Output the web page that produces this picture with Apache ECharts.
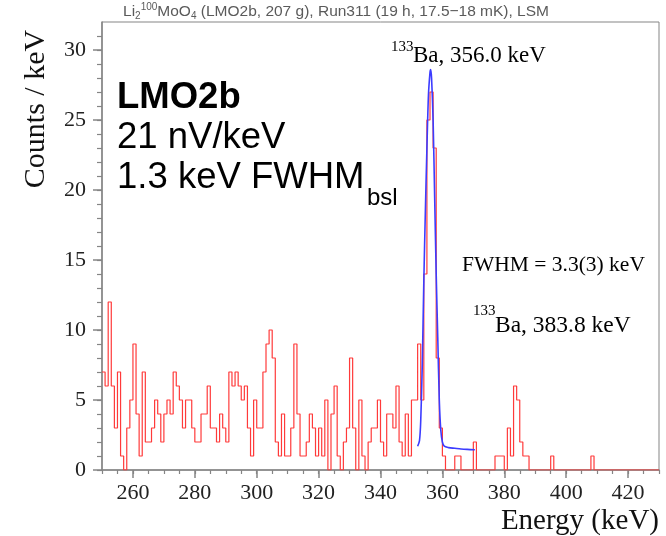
<!DOCTYPE html>
<html><head><meta charset="utf-8">
<script src="https://cdn.jsdelivr.net/npm/echarts@6/dist/echarts.min.js"></script>
<style>html,body{margin:0;padding:0;background:#fff}#c{width:666px;height:536px}</style>
</head><body><div id="c"></div>
<script>
// Histogram: bins of 1 keV starting at 250 keV
const binStart = 250;
const binWidth = 1;
const counts = [
  7,6,12,6,3,7,1,0,3,5,
  9,4,1,7,2,2,3,5,4,2,
  4,5,4,7,6,5,3,5,5,3,
  2,2,4,4,6,3,3,2,4,3,
  2,7,6,7,6,5,6,3,1,5,
  3,3,7,9,10,8,2,1,4,1,
  1,3,9,4,1,1,2,4,3,1,
  3,1,5,0,4,6,1,0,2,3,
  8,3,0,5,1,0,2,3,3,5,
  2,1,4,4,3,6,2,1,4,1,
  5,5,9,5,14,25,27,23,8,3,
  1,0,0,0,1,1,0,0,0,0,
  2,0,0,0,0,0,0,1,1,1,
  0,3,1,6,5,2,1,1,0,0,
  0,0,0,0,0,1,0,0,0,0,
  0,0,0,0,0,0,0,0,1,0,
  0,0,0,0,0,0,0,0,0,0,
  0,0,0,0,0,0,0,0,0,0
];
// Fit curve
const fitEnergy = [352.0,352.6,353.0,353.5,354.0,354.5,355.0,355.5,356.0,356.2,356.5,357.0,357.5,358.0,358.5,359.0,359.5,360.0,360.6,362,364,366,368,370.5];
const fitCounts = [1.7,2.1,3.5,7.5,13.5,18.5,23,26.8,28.4,28.6,28,25,19.5,14,9.5,5,2.8,2.0,1.7,1.6,1.55,1.5,1.47,1.45];
// Axis ticks
const xMajorTicks = [260,280,300,320,340,360,380,400,420];
const xMinorTicks = [250,255,260,265,270,275,280,285,290,295,300,305,310,315,320,325,330,335,340,345,350,355,360,365,370,375,380,385,390,395,400,405,410,415,420,425,430];
const yMajorTicks = [0,5,10,15,20,25,30];
const yMinorTicks = [0,1,2,3,4,5,6,7,8,9,10,11,12,13,14,15,16,17,18,19,20,21,22,23,24,25,26,27,28,29,30,31];

const histData = counts.map((c, i) => [binStart + i * binWidth, c]);
histData.push([binStart + counts.length * binWidth, counts[counts.length - 1]]);
const fitData = fitEnergy.map((e, i) => [e, fitCounts[i]]);

const axisCol = '#858585';
const serif = 'Liberation Serif';
const sans = 'Liberation Sans';

const chart = echarts.init(document.getElementById('c'), null, {renderer: 'canvas'});
chart.setOption({
  animation: false,
  grid: {left: 102, right: 7, top: 22, bottom: 66, show: true, borderColor: axisCol, borderWidth: 1, backgroundColor: 'transparent'},
  xAxis: [
    {type: 'value', min: 250, max: 430, position: 'bottom',
     axisLine: {show: true, onZero: false, lineStyle: {color: axisCol, width: 1.5}},
     axisTick: {show: true, length: 8, customValues: xMajorTicks, lineStyle: {color: axisCol, width: 1.5}},
     axisLabel: {customValues: xMajorTicks, margin: 12, fontFamily: serif, fontSize: 22, color: '#222'},
     splitLine: {show: false}},
    {type: 'value', min: 250, max: 430, position: 'bottom',
     axisLine: {show: false},
     axisTick: {show: true, length: 4, customValues: xMinorTicks, lineStyle: {color: axisCol, width: 1.2}},
     axisLabel: {show: false}, splitLine: {show: false}}
  ],
  yAxis: [
    {type: 'value', min: 0, max: 32, position: 'left',
     axisLine: {show: true, onZero: false, lineStyle: {color: axisCol, width: 1.5}},
     axisTick: {show: true, length: 9, customValues: yMajorTicks, lineStyle: {color: axisCol, width: 1.5}},
     axisLabel: {customValues: yMajorTicks, margin: 16, fontFamily: serif, fontSize: 22, color: '#222'},
     splitLine: {show: false}},
    {type: 'value', min: 0, max: 32, position: 'left',
     axisLine: {show: false},
     axisTick: {show: true, length: 5, customValues: yMinorTicks, lineStyle: {color: axisCol, width: 1.2}},
     axisLabel: {show: false}, splitLine: {show: false}}
  ],
  series: [
    {type: 'line', xAxisIndex: 0, yAxisIndex: 0, step: 'end', data: histData, symbol: 'none',
     lineStyle: {color: '#ff3a3a', width: 1.2}, clip: true, z: 2},
    {type: 'line', xAxisIndex: 0, yAxisIndex: 0, data: fitData, symbol: 'none', smooth: 0.3,
     lineStyle: {color: '#3c3cff', width: 1.6}, clip: true, z: 3}
  ],
  graphic: [
    {type: 'text', x: 336, y: 12, style: {
      text: 'Li{sub|2}{sup|100}MoO{sub|4} (LMO2b, 207 g), Run311 (19 h, 17.5\u221218 mK), LSM',
      font: '15.5px ' + sans, fill: '#5a5a5a', textAlign: 'center', textVerticalAlign: 'middle',
      rich: {
        sub: {fontSize: 10, fontFamily: sans, fill: '#5a5a5a', verticalAlign: 'bottom', lineHeight: 19},
        sup: {fontSize: 10, fontFamily: sans, fill: '#5a5a5a', verticalAlign: 'top', lineHeight: 19}
      }}},
    {type: 'text', x: 36, y: 109, rotation: Math.PI / 2, style: {
      text: 'Counts / keV', font: '30px ' + serif, fill: '#111', textAlign: 'center', textVerticalAlign: 'middle'}},
    {type: 'text', x: 659, y: 521, style: {
      text: 'Energy (keV)', font: '29px ' + serif, fill: '#111', textAlign: 'right', textVerticalAlign: 'middle'}},
    {type: 'text', x: 117, y: 97.5, style: {
      text: 'LMO2b', font: 'bold 36.5px ' + sans, fill: '#000', textAlign: 'left', textVerticalAlign: 'middle'}},
    {type: 'text', x: 117, y: 138, style: {
      text: '21 nV/keV', font: '36.5px ' + sans, fill: '#000', textAlign: 'left', textVerticalAlign: 'middle'}},
    {type: 'text', x: 117, y: 178, style: {
      text: '1.3 keV FWHM', font: '36.5px ' + sans, fill: '#000', textAlign: 'left', textVerticalAlign: 'middle'}},
    {type: 'text', x: 367, y: 198, style: {
      text: 'bsl', font: '24px ' + sans, fill: '#000', textAlign: 'left', textVerticalAlign: 'middle'}},
    {type: 'text', x: 391, y: 47, style: {
      text: '133', font: '15px ' + serif, fill: '#000', textAlign: 'left', textVerticalAlign: 'middle'}},
    {type: 'text', x: 413, y: 56, style: {
      text: 'Ba, 356.0 keV', font: '23px ' + serif, fill: '#000', textAlign: 'left', textVerticalAlign: 'middle'}},
    {type: 'text', x: 462, y: 265, style: {
      text: 'FWHM = 3.3(3) keV', font: '21.5px ' + serif, fill: '#000', textAlign: 'left', textVerticalAlign: 'middle'}},
    {type: 'text', x: 473, y: 311, style: {
      text: '133', font: '15px ' + serif, fill: '#000', textAlign: 'left', textVerticalAlign: 'middle'}},
    {type: 'text', x: 495, y: 326, style: {
      text: 'Ba, 383.8 keV', font: '23.5px ' + serif, fill: '#000', textAlign: 'left', textVerticalAlign: 'middle'}}
  ]
});
</script>
</body></html>
